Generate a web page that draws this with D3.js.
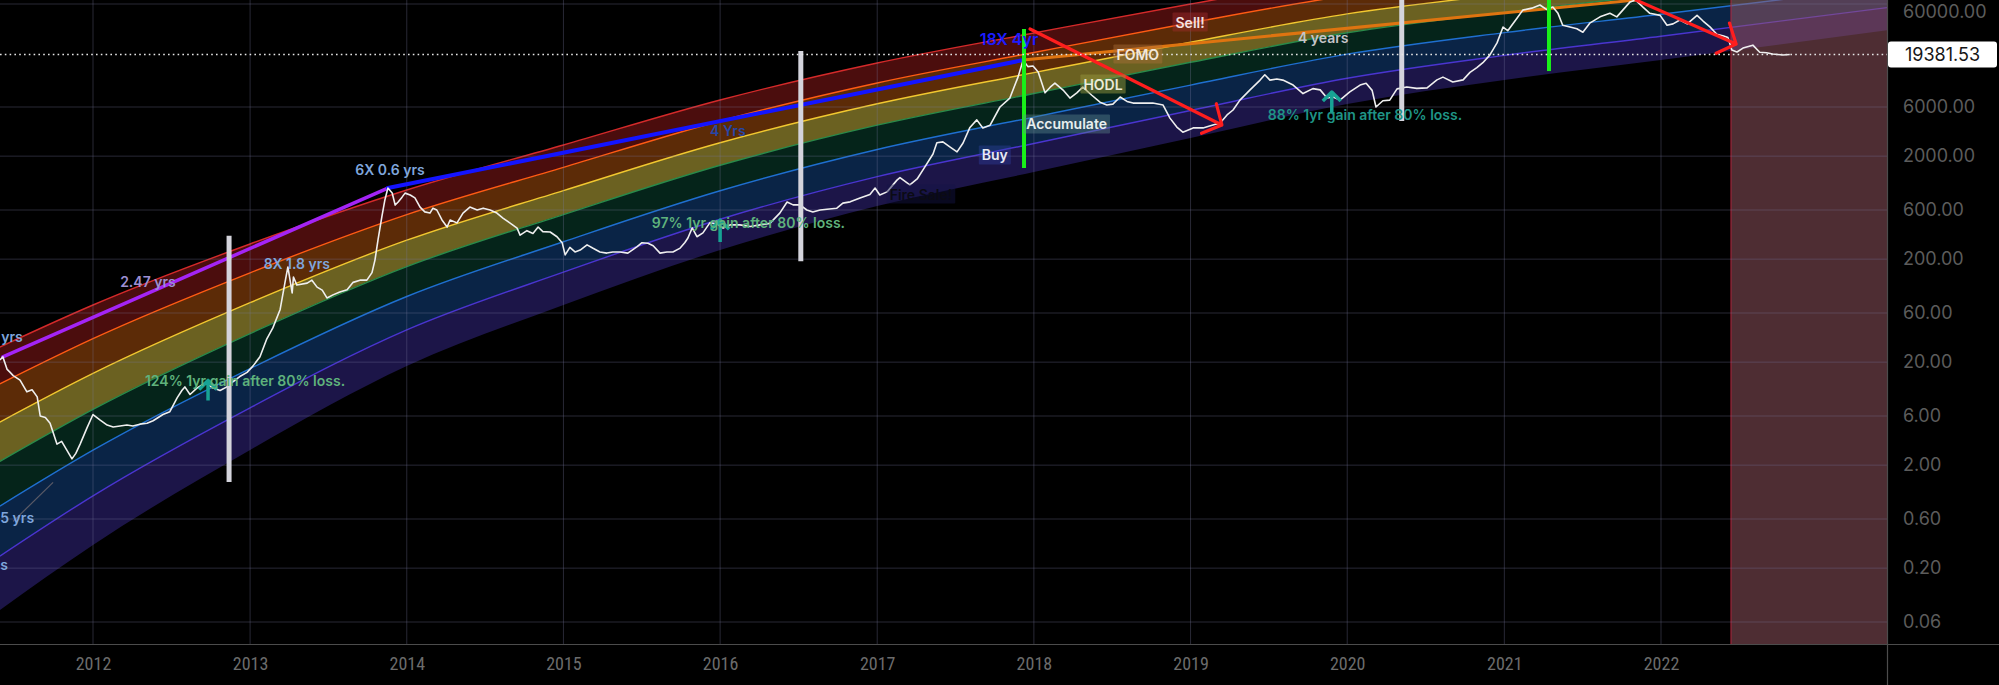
<!DOCTYPE html>
<html><head><meta charset="utf-8">
<script src="https://cdn.jsdelivr.net/npm/d3@7"></script>
<style>
html,body{margin:0;padding:0;background:#000;}
svg{display:block;}
</style></head><body>
<svg id="chart" width="1999" height="685"></svg>
<script>
// ---------------- DATA ----------------
const yearTicks = ["2012-01-01","2013-01-01","2014-01-01","2015-01-01","2016-01-01","2017-01-01","2018-01-01","2019-01-01","2020-01-01","2021-01-01","2022-01-01"];
const priceTicks = [60000,6000,2000,600,200,60,20,6,2,0.6,0.2,0.06];
const lastPrice = 19381.53;
const shadeStart = "2022-06-13";

// rainbow band boundaries (price at each band date)
const bandDates   = ["2011-05-29","2012-01-01","2013-01-01","2014-01-01","2015-01-01","2016-01-01","2017-01-01","2018-01-01","2019-01-01","2020-01-01","2021-01-01","2022-01-01","2023-06-14"];
const bandSellTop = [28.06,71.77,280.6,938.4,2566,7018,16050,31370,60000,107300,160500,229500,392400];
const bandFomoTop = [12.32,33.85,147.4,541.3,1555,4388,10260,20290,39410,72400,110200,159800,278100];
const bandHodlTop = [5.245,15.55,75.53,305.4,925.9,2698,6446,12950,25550,48100,74700,109500,194500];
const bandAccumTop= [2.175,6.955,37.86,169.3,541.3,1631,3996,8115,16300,31510,49940,74200,134500];
const bandBuyTop  = [0.8004,2.794,17.31,86.75,294.8,922.6,2320,4787,9790,19540,31650,47770,88530];
const bandFireTop = [0.2618,1.008,7.208,41.11,149.4,488.0,1264,2653,5549,11420,19020,29210,55490];
const bandFloor   = [0.07844,0.3356,2.807,18.35,71.77,245.3,656.2,1403,3000,6418,10970,17160,33560];

// BTC price
const priceSeries = [
["2011-05-29",21],["2011-06-05",22.5],["2011-06-15",17],["2011-06-22",15.9],["2011-06-29",14.8],["2011-07-15",13.4],["2011-07-31",10.3],["2011-08-12",10.8],["2011-08-24",9.2],["2011-08-31",6.0],["2011-09-12",5.8],["2011-09-23",5.1],["2011-10-09",3.2],["2011-10-20",3.4],["2011-11-01",2.8],["2011-11-13",2.3],["2011-11-22",2.6],["2011-12-02",3.2],["2011-12-18",4.6],
["2012-01-01",6.2],["2012-01-17",5.5],["2012-02-03",4.9],["2012-02-17",4.7],["2012-03-04",4.8],["2012-03-20",4.9],["2012-04-03",4.8],["2012-04-19",5.0],["2012-05-06",5.1],["2012-05-20",5.4],["2012-06-12",6.2],["2012-06-28",6.6],["2012-07-15",9.0],["2012-07-26",10.6],["2012-08-02",11.5],["2012-08-14",9.7],["2012-08-30",11.2],["2012-09-18",12.6],["2012-10-07",11.2],["2012-10-23",10.6],["2012-11-08",11.5],["2012-11-22",12.9],["2012-12-08",14.5],["2012-12-25",15.9],
["2013-01-08",18.4],["2013-01-24",22.6],["2013-02-09",33.7],["2013-02-23",43],["2013-03-12",65],["2013-03-23",117],["2013-03-30",168],["2013-04-09",94],["2013-04-12",134],["2013-04-20",112],["2013-05-14",117],["2013-05-25",125],["2013-06-06",107],["2013-06-18",100],["2013-06-29",84],["2013-07-13",90],["2013-07-29",96],["2013-08-15",101],["2013-08-29",119],["2013-09-14",125],["2013-09-30",125],["2013-10-12",148],["2013-10-19",197],["2013-10-26",307],["2013-11-04",518],["2013-11-11",751],["2013-11-18",980],["2013-11-28",877],["2013-12-05",670],["2013-12-12",718],["2013-12-21",800],["2013-12-28",875],
["2014-01-09",840],["2014-01-20",786],["2014-02-01",640],["2014-02-12",575],["2014-02-24",560],["2014-03-03",625],["2014-03-12",600],["2014-03-24",480],["2014-04-05",410],["2014-04-12",480],["2014-04-28",450],["2014-05-12",560],["2014-05-28",640],["2014-06-14",600],["2014-06-28",625],["2014-07-14",600],["2014-07-30",560],["2014-08-13",500],["2014-08-29",450],["2014-09-15",400],["2014-09-22",342],["2014-10-08",378],["2014-10-22",355],["2014-11-03",410],["2014-11-14",370],["2014-12-01",367],["2014-12-17",330],["2014-12-29",289],
["2015-01-05",220],["2015-01-16",260],["2015-01-28",235],["2015-02-09",245],["2015-02-25",275],["2015-03-11",255],["2015-03-27",235],["2015-04-12",229],["2015-04-26",235],["2015-05-13",235],["2015-05-31",229],["2015-06-21",263],["2015-07-03",289],["2015-07-17",285],["2015-07-29",270],["2015-08-14",229],["2015-08-30",235],["2015-09-13",235],["2015-09-30",256],["2015-10-11",290],["2015-10-18",321],["2015-10-28",402],["2015-11-08",330],["2015-11-22",360],["2015-12-08",450],["2015-12-25",440],
["2016-01-08",400],["2016-01-24",430],["2016-02-16",430],["2016-03-11",415],["2016-04-03",430],["2016-04-26",445],["2016-05-19",560],["2016-06-05",718],["2016-06-19",673],["2016-07-05",673],["2016-07-21",600],["2016-08-04",575],["2016-08-21",600],["2016-09-06",610],["2016-09-29",625],["2016-10-13",700],["2016-10-30",720],["2016-11-22",785],["2016-12-15",850],["2016-12-27",980],
["2017-01-07",840],["2017-01-24",900],["2017-02-16",1170],["2017-02-23",1240],["2017-03-18",1050],["2017-04-04",1200],["2017-04-18",1480],["2017-05-11",2100],["2017-05-20",2700],["2017-06-03",2750],["2017-06-20",2450],["2017-07-06",2200],["2017-07-20",2680],["2017-08-05",3800],["2017-08-21",4500],["2017-09-04",3760],["2017-09-21",4000],["2017-10-14",6000],["2017-11-06",7330],["2017-11-25",11700],["2017-12-07",17140],["2017-12-18",14800],["2017-12-30",15000],
["2018-01-11",13100],["2018-01-27",8240],["2018-02-08",9340],["2018-02-19",10240],["2018-03-10",8760],["2018-03-26",7330],["2018-04-11",8240],["2018-04-25",9340],["2018-05-16",7800],["2018-06-04",6680],["2018-06-20",6270],["2018-07-04",6400],["2018-07-21",7500],["2018-08-06",6800],["2018-08-20",6550],["2018-09-12",6550],["2018-10-05",6550],["2018-10-29",6270],["2018-11-14",4680],["2018-11-30",3830],["2018-12-14",3420],
["2019-01-07",3760],["2019-01-30",3760],["2019-02-22",4010],["2019-03-11",4200],["2019-03-27",5020],["2019-04-10",5610],["2019-04-26",7000],["2019-05-19",8760],["2019-06-12",10950],["2019-06-23",12330],["2019-07-05",10950],["2019-07-21",11200],["2019-08-04",10950],["2019-08-28",9800],["2019-09-20",8100],["2019-10-13",9050],["2019-10-30",8800],["2019-11-15",7330],["2019-11-29",7500],["2019-12-15",7000],
["2020-01-07",8400],["2020-01-31",9800],["2020-02-14",10200],["2020-02-28",8700],["2020-03-08",6000],["2020-03-24",6900],["2020-04-09",7000],["2020-04-26",9000],["2020-05-19",9400],["2020-06-11",9100],["2020-07-05",9200],["2020-07-28",11000],["2020-08-11",11700],["2020-09-03",10500],["2020-09-27",11000],["2020-10-13",13000],["2020-10-29",14470],["2020-11-12",16160],["2020-11-28",19130],["2020-12-15",25150],["2020-12-29",35850],
["2021-01-09",33000],["2021-01-30",43300],["2021-02-13",52300],["2021-03-06",54700],["2021-03-25",58700],["2021-04-10",53000],["2021-04-24",56000],["2021-05-06",48700],["2021-05-17",37300],["2021-06-03",35850],["2021-06-19",34500],["2021-07-03",31900],["2021-07-19",39100],["2021-08-12",45000],["2021-09-04",48700],["2021-09-20",45000],["2021-10-04",52300],["2021-10-21",62900],["2021-11-03",65500],["2021-11-20",56000],["2021-12-06",48700],["2021-12-30",46500],
["2022-01-15",37300],["2022-01-29",38500],["2022-02-14",42000],["2022-03-03",38500],["2022-03-26",46500],["2022-04-09",41000],["2022-04-25",36000],["2022-05-11",30500],["2022-05-25",29500],["2022-06-06",28300],["2022-06-15",21500],["2022-06-27",20500],["2022-07-11",22400],["2022-08-03",23900],["2022-08-19",20400],["2022-09-04",20200],["2022-09-18",19600],["2022-10-12",19200],["2022-10-28",19381.53]
];

// cycle tops joined by trend lines
const cycleTops = [["2011-06-05",22.5],["2013-11-18",980],["2017-12-07",17140],["2021-11-03",65500]];
// vertical markers [date, low price, high price]
const whiteBars = [["2012-11-13",1.37,337],["2016-07-07",191,21000],["2020-05-07",4390,90000]];
const greenBars = [["2017-12-09",1534,34300],["2021-04-15",13400,90000]];
// drawdown arrows [[start],[end]]
const drawdownArrows = [[["2017-12-23",34300],["2019-03-15",4013]],[["2021-11-04",65500],["2022-06-25",24540]]];
// recovery arrows [date, base price, tip price]
const gainArrows = [["2012-09-25",8.5,13.3],["2016-01-01",293,478],["2019-11-26",5250,8390]];
const faintLine = [["2011-06-29",0.569],["2011-09-30",1.36]];
// text annotations [text, date, price]
const annotations = [
 ["yrs","2011-06-01",35.1],
 ["2.47 yrs","2012-05-08",120],
 ["6X 0.6 yrs","2013-11-23",1500],
 ["8X 1.8 yrs","2013-04-20",183],
 ["124% 1yr gain after 80% loss.","2012-05-01",13.4],
 ["5 yrs","2011-05-30",0.614],
 ["s","2011-05-30",0.2146],
 ["4 Yrs","2016-01-19",3509],
 ["97% 1yr gain after 80% loss.","2015-07-26",449],
 ["18X 4yr","2017-11-04",27430],
 ["4 years","2019-11-06",28060],
 ["88% 1yr gain after 80% loss.","2019-06-30",5130]
];
const zoneLabels = [
 ["Sell!","2018-12-31",40120],
 ["FOMO","2018-08-31",19620],
 ["HODL","2018-06-11",10030],
 ["Accumulate","2017-12-14",4104],
 ["Buy","2017-10-02",2052],
 ["Fire Sale!","2017-04-13",858]
];

// ---------------- CHART ----------------
const W = 1999, H = 685, PR = 1887, PB = 644;
const FONT = "Inter, 'Noto Sans', sans-serif";
const parse = d3.utcParse("%Y-%m-%d");
const x = d3.scaleUtc().domain([parse("2012-01-01"), parse("2022-01-01")]).range([93, 1661]);
const y = d3.scaleLog().domain([6000, 60]).range([107, 313]);
const X = d => x(parse(d));

const svg = d3.select("#chart");
svg.append("defs").append("clipPath").attr("id","plotClip")
  .append("rect").attr("x",0).attr("y",0).attr("width",PR).attr("height",PB);
svg.append("rect").attr("width",W).attr("height",H).attr("fill","#000");
const g = svg.append("g").attr("clip-path","url(#plotClip)");

// bands
const bounds = [bandSellTop,bandFomoTop,bandHodlTop,bandAccumTop,bandBuyTop,bandFireTop,bandFloor];
const bandFill = ["#4b0d0d","#5c2b07","#6b6121","#05241a","#0a2446","#1c1548"];
const lineCol = ["#d42a2a","#ff5b14","#f2c830","#2a8a4a","#1f6fd0","#4a35d0"];
for (let i = 0; i < 6; i++) {
  const area = d3.area()
    .x((d,j) => X(bandDates[j]))
    .y1((d,j) => y(bounds[i][j]))
    .y0((d,j) => y(bounds[i+1][j]))
    .curve(d3.curveMonotoneX);
  g.append("path").attr("d", area(bandDates)).attr("fill", bandFill[i]);
}
for (let i = 0; i < 6; i++) {
  const line = d3.line().x((d,j) => X(bandDates[j])).y((d,j) => y(bounds[i][j])).curve(d3.curveMonotoneX);
  g.append("path").attr("d", line(bandDates)).attr("fill","none").attr("stroke", lineCol[i]).attr("stroke-width",1.4);
}

// future shaded region
g.append("rect").attr("x", X(shadeStart)).attr("y",0).attr("width", PR - X(shadeStart)).attr("height", PB)
  .attr("fill","rgba(155,90,102,0.5)");
g.append("line").attr("x1",X(shadeStart)).attr("x2",X(shadeStart)).attr("y1",0).attr("y2",PB)
  .attr("stroke","#b0243c").attr("stroke-width",1);

// gridlines
g.selectAll(".hg").data(priceTicks).join("line").attr("class","hg")
  .attr("x1",0).attr("x2",PR).attr("y1",d=>y(d)).attr("y2",d=>y(d))
  .attr("stroke","rgba(120,120,160,0.33)").attr("stroke-width",1);
g.selectAll(".vg").data(yearTicks).join("line").attr("class","vg")
  .attr("x1",d=>X(d)).attr("x2",d=>X(d)).attr("y1",0).attr("y2",PB)
  .attr("stroke","rgba(120,120,160,0.33)").attr("stroke-width",1);

// faint gray line
g.append("line").attr("x1",X(faintLine[0][0])).attr("y1",y(faintLine[0][1]))
  .attr("x2",X(faintLine[1][0])).attr("y2",y(faintLine[1][1]))
  .attr("stroke","#5a5a66").attr("stroke-width",1.2);

// cycle-top trend lines
const seg = (a,b,col,w) => g.append("line").attr("x1",X(a[0])).attr("y1",y(a[1])).attr("x2",X(b[0])).attr("y2",y(b[1]))
  .attr("stroke",col).attr("stroke-width",w).attr("stroke-linecap","round");
seg(cycleTops[0], cycleTops[1], "#a424f5", 3.5);
seg(cycleTops[1], cycleTops[2], "#1414ff", 4);
seg(cycleTops[2], cycleTops[3], "#de7410", 3);

// price line
g.append("path").datum(priceSeries)
  .attr("d", d3.line().x(d=>X(d[0])).y(d=>y(d[1])))
  .attr("fill","none").attr("stroke","#efefef").attr("stroke-width",1.6).attr("stroke-linejoin","round");

// vertical bars
g.selectAll(".wb").data(whiteBars).join("line").attr("class","wb")
  .attr("x1",d=>X(d[0])).attr("x2",d=>X(d[0])).attr("y1",d=>y(d[1])).attr("y2",d=>y(d[2]))
  .attr("stroke","#d4d4dc").attr("stroke-width",5);
g.selectAll(".gb").data(greenBars).join("line").attr("class","gb")
  .attr("x1",d=>X(d[0])).attr("x2",d=>X(d[0])).attr("y1",d=>y(d[1])).attr("y2",d=>y(d[2]))
  .attr("stroke","#19f019").attr("stroke-width",4);

// drawdown arrows
drawdownArrows.forEach(([a,b]) => {
  const x1 = X(a[0]), y1 = y(a[1]), x2 = X(b[0]), y2 = y(b[1]);
  const ang = Math.atan2(y1 - y2, x1 - x2);
  const L = 22, sp = 0.85;
  const p = `M${x1},${y1}L${x2},${y2}M${x2 + L*Math.cos(ang+sp)},${y2 + L*Math.sin(ang+sp)}L${x2},${y2}L${x2 + L*Math.cos(ang-sp)},${y2 + L*Math.sin(ang-sp)}`;
  g.append("path").attr("d",p).attr("fill","none").attr("stroke","#ff1e1e").attr("stroke-width",3.2)
   .attr("stroke-linecap","round").attr("stroke-linejoin","round");
});

// gain arrows
gainArrows.forEach(d => {
  const xx = X(d[0]), yb = y(d[1]), yt = y(d[2]);
  g.append("path").attr("d",`M${xx},${yb}L${xx},${yt}M${xx-9},${yt+9}L${xx},${yt}L${xx+9},${yt+9}`)
   .attr("fill","none").attr("stroke","#17a394").attr("stroke-width",3.5).attr("stroke-linejoin","round");
});

// dotted last-price line
g.append("line").attr("x1",0).attr("x2",PR).attr("y1",y(lastPrice)).attr("y2",y(lastPrice))
  .attr("stroke","#e6e6e6").attr("stroke-width",1.6).attr("stroke-dasharray","1.6,3.2");

// text annotations
const annStyle = {
  "yrs":{c:"#7fa6dc",a:"start"}, "2.47 yrs":{c:"#9d8fd2",a:"middle"}, "6X 0.6 yrs":{c:"#7fa6dc",a:"middle"},
  "8X 1.8 yrs":{c:"#7fa6dc",a:"middle"}, "124% 1yr gain after 80% loss.":{c:"#5fb27c",a:"start"},
  "5 yrs":{c:"#7fa6dc",a:"start"}, "s":{c:"#7fa6dc",a:"start"}, "4 Yrs":{c:"#2746a8",a:"middle"},
  "97% 1yr gain after 80% loss.":{c:"#5fb27c",a:"start"}, "18X 4yr":{c:"#1c1cff",a:"middle"},
  "4 years":{c:"#c4c4c8",a:"middle"}, "88% 1yr gain after 80% loss.":{c:"#1f9486",a:"start"}
};
annotations.forEach(([t,d,p]) => {
  const s = annStyle[t];
  g.append("text").attr("x",X(d)).attr("y",y(p)).attr("text-anchor",s.a).attr("dominant-baseline","central")
   .attr("fill",s.c).attr("font-family",FONT).attr("font-size",t==="18X 4yr"?16:14).attr("font-weight",600).text(t);
});

// zone labels with boxes
const zoneStyle = {
  "Sell!":{bg:"rgba(160,45,45,0.45)",c:"#f3e2e2",a:"middle"},
  "FOMO":{bg:"rgba(170,110,55,0.45)",c:"#f2e8dc",a:"middle"},
  "HODL":{bg:"rgba(150,150,60,0.5)",c:"#ecebd8",a:"middle"},
  "Accumulate":{bg:"rgba(95,140,140,0.4)",c:"#e8efef",a:"start"},
  "Buy":{bg:"rgba(50,70,170,0.36)",c:"#e8eaf6",a:"middle"},
  "Fire Sale!":{bg:"rgba(20,20,70,0.45)",c:"#0b0b14",a:"middle"}
};
zoneLabels.forEach(([t,d,p]) => {
  const s = zoneStyle[t];
  const grp = g.append("g");
  const txt = grp.append("text").attr("x",X(d)).attr("y",y(p)).attr("text-anchor",s.a).attr("dominant-baseline","central")
    .attr("fill",s.c).attr("font-family",FONT).attr("font-size",14).attr("font-weight",600).text(t);
  const bb = txt.node().getBBox();
  grp.insert("rect","text").attr("x",bb.x-3).attr("y",bb.y-1).attr("width",bb.width+6).attr("height",bb.height+2)
    .attr("fill",s.bg).attr("rx",1);
});

// axes
const xAxis = d3.axisBottom(x).tickValues(yearTicks.map(parse)).tickFormat(d3.utcFormat("%Y")).tickSize(0).tickPadding(13);
const gx = svg.append("g").attr("transform",`translate(0,${PB})`).call(xAxis);
gx.select(".domain").remove();
gx.selectAll("text").attr("fill","#6c6c6c").attr("font-size",18)
  .attr("font-family","'Liberation Sans Narrow', 'Roboto Condensed', Roboto, sans-serif").attr("font-stretch","condensed");

const yAxis = d3.axisRight(y).tickValues(priceTicks).tickFormat(d3.format(".2f")).tickSize(0).tickPadding(16);
const gy = svg.append("g").attr("transform",`translate(${PR},0)`).call(yAxis);
gy.select(".domain").remove();
gy.selectAll("text").attr("fill","#5c5c5c").attr("font-size",18).attr("font-family",FONT);
// keep the top tick label fully inside the picture
gy.selectAll(".tick").each(function() {
  const t = d3.select(this).select("text");
  const bb = t.node().getBBox();
  const tr = this.transform.baseVal.consolidate();
  const top = (tr ? tr.matrix.f : 0) + bb.y;
  if (top < 1) t.attr("y", 1 - top);
});

// borders
svg.append("line").attr("x1",0).attr("x2",W).attr("y1",PB+0.5).attr("y2",PB+0.5).attr("stroke","#4c4c4c").attr("stroke-width",1.2);
svg.append("line").attr("x1",PR+0.5).attr("x2",PR+0.5).attr("y1",0).attr("y2",H).attr("stroke","#4c4c4c").attr("stroke-width",1.2);

// last price tag
const ly = y(lastPrice);
svg.append("rect").attr("x",PR+1).attr("y",ly-13).attr("width",109).attr("height",26).attr("rx",3).attr("fill","#ffffff");
svg.append("text").attr("x",1905).attr("y",ly).attr("dominant-baseline","central").attr("fill","#161616")
  .attr("font-family",FONT).attr("font-size",18).text(d3.format(".2f")(lastPrice));
</script>
</body></html>
